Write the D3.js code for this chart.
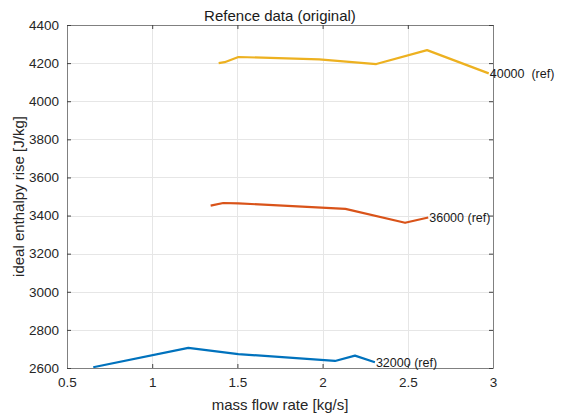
<!DOCTYPE html>
<html>
<head>
<meta charset="utf-8">
<script src="https://cdn.jsdelivr.net/npm/d3@7"></script>
<style>
  body { margin: 0; background: #fff; }
  svg { font-family: "Liberation Sans", Arial, sans-serif; }
</style>
</head>
<body>
<div id="chart"></div>
<script>
'use strict';

// data
var flow32 = [0.654, 1.212, 1.505, 2.073, 2.19, 2.307];
var rise32 = [2604, 2706, 2673, 2637, 2665, 2630];
var flow36 = [1.343, 1.417, 1.506, 2.134, 2.484, 2.62];
var rise36 = [3452, 3466, 3464, 3435, 3362, 3390];
var flow40 = [1.39, 1.425, 1.506, 1.98, 2.315, 2.613, 2.975];
var rise40 = [4200, 4205, 4232, 4220, 4195, 4268, 4146];

var seriesNames = ['32000 (ref)', '36000 (ref)', '40000  (ref)'];
var seriesColors = ['#0072BD', '#D95319', '#EDB120'];
var xTicks = [0.5, 1, 1.5, 2, 2.5, 3];
var yTicks = [2600, 2800, 3000, 3200, 3400, 3600, 3800, 4000, 4200, 4400];

var series = [
  {name: seriesNames[0], color: seriesColors[0], pts: d3.zip(flow32, rise32)},
  {name: seriesNames[1], color: seriesColors[1], pts: d3.zip(flow36, rise36)},
  {name: seriesNames[2], color: seriesColors[2], pts: d3.zip(flow40, rise40)}
];

var width = 568, height = 417;
var margin = {top: 25, right: 75, bottom: 49, left: 67};
var w = width - margin.left - margin.right;
var h = height - margin.top - margin.bottom;

var svg = d3.select('#chart').append('svg')
  .attr('width', width)
  .attr('height', height);

var g = svg.append('g')
  .attr('transform', 'translate(' + margin.left + ',' + margin.top + ')');

var x = d3.scaleLinear().domain([0.5, 3]).range([0, w]);
var y = d3.scaleLinear().domain([2600, 4400]).range([h, 0]);

// grid
g.append('g').selectAll('line').data(xTicks).enter().append('line')
  .attr('x1', function(d){ return Math.round(x(d)) + 0.5; })
  .attr('x2', function(d){ return Math.round(x(d)) + 0.5; })
  .attr('y1', 0).attr('y2', h)
  .attr('stroke', '#e6e6e6');
g.append('g').selectAll('line').data(yTicks).enter().append('line')
  .attr('y1', function(d){ return Math.round(y(d)) + 0.5; })
  .attr('y2', function(d){ return Math.round(y(d)) + 0.5; })
  .attr('x1', 0).attr('x2', w)
  .attr('stroke', '#e6e6e6');

// lines
var line = d3.line()
  .x(function(d){ return x(d[0]); })
  .y(function(d){ return y(d[1]); });

g.append('g').selectAll('path').data(series).enter().append('path')
  .attr('d', function(d){ return line(d.pts); })
  .attr('fill', 'none')
  .attr('stroke', function(d){ return d.color; })
  .attr('stroke-width', 2.2)
  .attr('stroke-linejoin', 'round');

// axes (box with inward ticks)
function styleAxis(sel){
  sel.select('.domain').attr('stroke', '#808080');
  sel.selectAll('.tick line').attr('stroke', '#404040');
  sel.selectAll('.tick text')
    .attr('fill', '#262626')
    .style('font-size', '13.5px');
}

g.append('g')
  .attr('transform', 'translate(0,' + h + ')')
  .call(d3.axisBottom(x).tickValues(xTicks).tickSize(-4).tickPadding(9).tickSizeOuter(0).tickFormat(d3.format('')))
  .call(styleAxis);
g.append('g')
  .call(d3.axisTop(x).tickValues(xTicks).tickSize(-4).tickSizeOuter(0).tickFormat(''))
  .call(styleAxis);
g.append('g')
  .call(d3.axisLeft(y).tickValues(yTicks).tickSize(-4).tickPadding(8).tickSizeOuter(0).tickFormat(d3.format('')))
  .call(styleAxis);
g.append('g')
  .attr('transform', 'translate(' + w + ',0)')
  .call(d3.axisRight(y).tickValues(yTicks).tickSize(-4).tickSizeOuter(0).tickFormat(''))
  .call(styleAxis);

g.selectAll('.domain').attr('fill', 'none');

// end labels
g.append('g').selectAll('text').data(series).enter().append('text')
  .attr('x', function(d){ return x(d.pts[d.pts.length - 1][0]) + 1; })
  .attr('y', function(d){ return y(d.pts[d.pts.length - 1][1]); })
  .attr('dy', '0.35em')
  .attr('fill', '#1a1a1a')
  .style('font-size', '12.5px')
  .style('white-space', 'pre')
  .text(function(d){ return d.name; });

// title and axis labels
svg.append('text')
  .attr('x', margin.left + w / 2)
  .attr('y', 21)
  .attr('text-anchor', 'middle')
  .attr('fill', '#1a1a1a')
  .style('font-size', '15px')
  .text('Refence data (original)');

svg.append('text')
  .attr('x', margin.left + w / 2)
  .attr('y', 410)
  .attr('text-anchor', 'middle')
  .attr('fill', '#262626')
  .style('font-size', '15px')
  .text('mass flow rate [kg/s]');

svg.append('text')
  .attr('transform', 'translate(24,' + (margin.top + h / 2) + ') rotate(-90)')
  .attr('text-anchor', 'middle')
  .attr('fill', '#262626')
  .style('font-size', '15px')
  .text('ideal enthalpy rise [J/kg]');
</script>
</body>
</html>
